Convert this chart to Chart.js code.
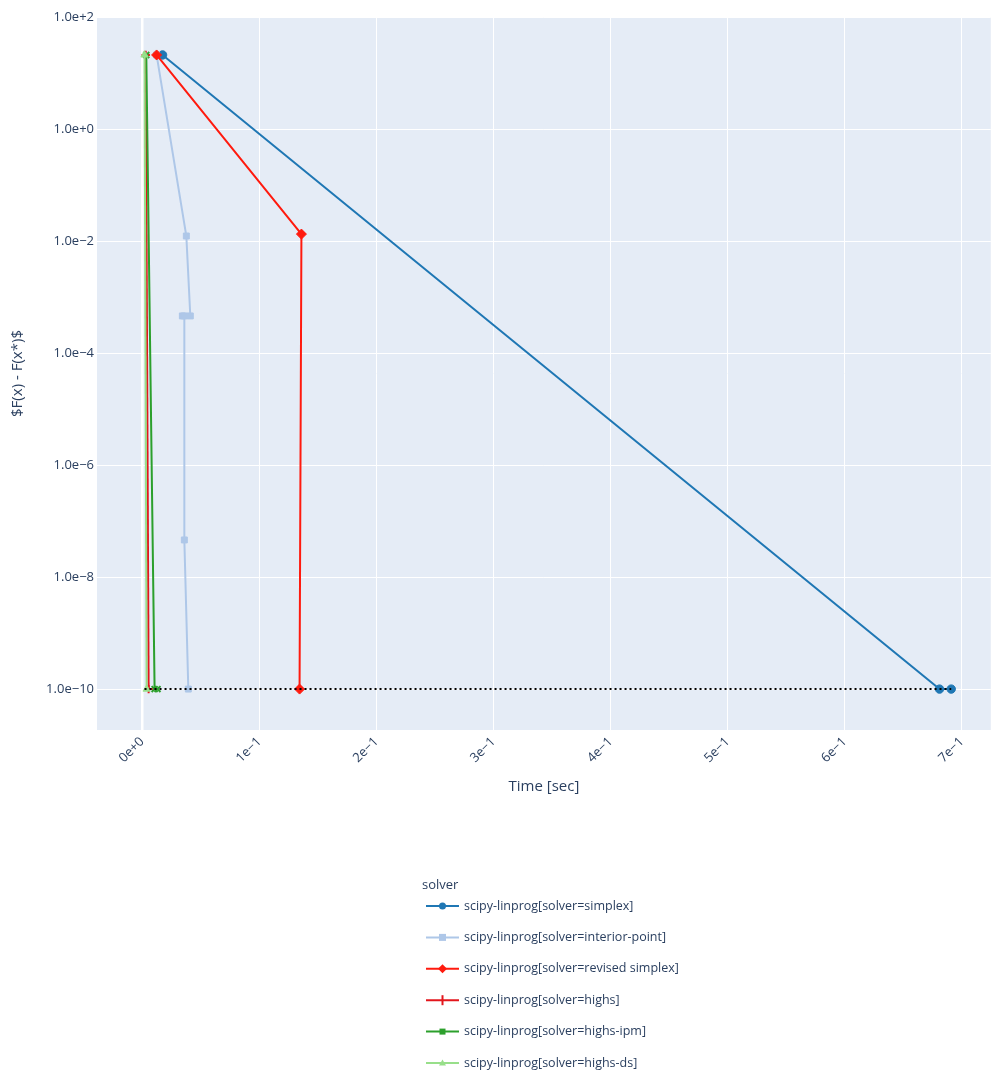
<!DOCTYPE html>
<html>
<head>
<meta charset="utf-8">
<script src="https://cdn.jsdelivr.net/npm/chart.js@4/dist/chart.umd.min.js"></script>
<style>
  body { margin: 0; background: #fff; }
  #wrap { width: 997px; height: 1073px; }
</style>
</head>
<body>
<div id="wrap"><canvas id="chart" width="997" height="1073"></canvas></div>
<script>
// values (time in sec, error F(x) - F(x*))
const solverNames = [
  'scipy-linprog[solver=simplex]',
  'scipy-linprog[solver=interior-point]',
  'scipy-linprog[solver=revised simplex]',
  'scipy-linprog[solver=highs]',
  'scipy-linprog[solver=highs-ipm]',
  'scipy-linprog[solver=highs-ds]'
];

const simplexTime = [0.0174, 0.681, 0.691];
const simplexErr = [21, 1e-10, 1e-10];

const interiorTime = [0.0123, 0.0377, 0.0411, 0.0343, 0.036, 0.036, 0.0394];
const interiorErr = [21, 0.0123, 4.6e-4, 4.6e-4, 4.6e-4, 4.6e-8, 1e-10];

const revisedTime = [0.0123, 0.136, 0.1344];
const revisedErr = [21, 0.0133, 1e-10];

const highsTime = [0.003, 0.0055];
const highsErr = [21, 1e-10];

const highsIpmTime = [0.0035, 0.0106, 0.0131];
const highsIpmErr = [21, 1e-10, 1e-10];

const highsDsTime = [0.002, 0.0038];
const highsDsErr = [21, 1e-10];

const optimumTime = [0.002, 0.691];
const optimumErr = [1e-10, 1e-10];

const xTicks = [0, 0.1, 0.2, 0.3, 0.4, 0.5, 0.6, 0.7];
const xTickLabels = ['0e+0', '1e\u22121', '2e\u22121', '3e\u22121', '4e\u22121', '5e\u22121', '6e\u22121', '7e\u22121'];
const yTicks = [1e-10, 1e-8, 1e-6, 1e-4, 1e-2, 1, 1e2];
const yTickLabels = ['1.0e\u221210', '1.0e\u22128', '1.0e\u22126', '1.0e\u22124', '1.0e\u22122', '1.0e+0', '1.0e+2'];

const colors = ['#1f77b4', '#aec7e8', '#ff1a0e', '#e3161c', '#2ca02c', '#98df8a'];
const markers = ['circle', 'rect', 'rectRot', 'cross', 'crossRot', 'triangle'];

function pts(xs, ys) {
  return xs.map((x, i) => ({ x: x, y: ys[i] }));
}

const series = [
  pts(simplexTime, simplexErr),
  pts(interiorTime, interiorErr),
  pts(revisedTime, revisedErr),
  pts(highsTime, highsErr),
  pts(highsIpmTime, highsIpmErr),
  pts(highsDsTime, highsDsErr)
];

const datasets = series.map((data, i) => ({
  label: solverNames[i],
  data: data,
  borderColor: colors[i],
  backgroundColor: colors[i],
  borderWidth: 2,
  pointStyle: markers[i],
  pointRadius: markers[i] === 'rectRot' ? 5 : 4.2,
  pointBorderWidth: markers[i] === 'cross' || markers[i] === 'crossRot' ? 2 : 1,
  pointHoverRadius: 4,
  tension: 0,
  order: 6 - i
}));

datasets.push({
  label: 'optimum',
  data: pts(optimumTime, optimumErr),
  borderColor: '#000000',
  borderWidth: 2,
  borderDash: [2, 3],
  pointRadius: 0,
  order: 0
});

const TEXT = '#2a3f5f';
Chart.defaults.font.family = '"Open Sans", "DejaVu Sans", sans-serif';
Chart.defaults.font.size = 13;
Chart.defaults.color = TEXT;

// plot background like plotly
const plotBg = {
  id: 'plotBg',
  beforeDraw(chart) {
    const { ctx, chartArea: a } = chart;
    ctx.save();
    ctx.fillStyle = '#e5ecf6';
    ctx.fillRect(a.left, a.top, a.right - a.left, a.bottom - a.top);
    ctx.restore();
  }
};

function drawMarker(ctx, style, x, y, color) {
  ctx.save();
  ctx.fillStyle = color;
  ctx.strokeStyle = color;
  ctx.lineWidth = 2;
  ctx.beginPath();
  if (style === 'circle') {
    ctx.arc(x, y, 3.5, 0, Math.PI * 2);
    ctx.fill();
  } else if (style === 'rect') {
    ctx.fillRect(x - 3.5, y - 3.5, 7, 7);
  } else if (style === 'rectRot') {
    ctx.moveTo(x, y - 4.5); ctx.lineTo(x + 4.5, y); ctx.lineTo(x, y + 4.5); ctx.lineTo(x - 4.5, y);
    ctx.closePath(); ctx.fill();
  } else if (style === 'cross') {
    ctx.moveTo(x, y - 5); ctx.lineTo(x, y + 5);
    ctx.stroke();
  } else if (style === 'crossRot') {
    ctx.fillRect(x - 3, y - 3, 6, 6);
  } else if (style === 'triangle') {
    ctx.moveTo(x, y - 3.5); ctx.lineTo(x + 3.5, y + 2.5); ctx.lineTo(x - 3.5, y + 2.5);
    ctx.closePath(); ctx.fill();
  }
  ctx.restore();
}

// vertical legend under the plot
const sideLegend = {
  id: 'sideLegend',
  afterDraw(chart) {
    const ctx = chart.ctx;
    ctx.save();
    ctx.font = '13px "Open Sans", "DejaVu Sans", sans-serif';
    ctx.fillStyle = TEXT;
    ctx.textBaseline = 'middle';
    ctx.fillText('solver', 422, 885);
    ctx.font = '12.5px "Open Sans", "DejaVu Sans", sans-serif';
    solverNames.forEach((name, i) => {
      const y = 906 + i * 31.4;
      ctx.strokeStyle = colors[i];
      ctx.lineWidth = 2;
      ctx.beginPath();
      ctx.moveTo(426, y);
      ctx.lineTo(459, y);
      ctx.stroke();
      drawMarker(ctx, markers[i], 442.5, y, colors[i]);
      ctx.fillStyle = TEXT;
      ctx.fillText(name, 464, y);
    });
    ctx.restore();
  }
};

new Chart(document.getElementById('chart'), {
  type: 'line',
  data: { datasets: datasets },
  options: {
    responsive: false,
    animation: false,
    layout: { padding: { top: 17, right: 0, left: 0, bottom: 273 } },
    plugins: {
      legend: { display: false },
      tooltip: { enabled: false }
    },
    scales: {
      x: {
        type: 'linear',
        min: -0.0386,
        max: 0.7248,
        afterFit(scale) { scale.height = 70; },
        afterBuildTicks(scale) {
          scale.ticks = xTicks.map(v => ({ value: v }));
        },
        ticks: {
          minRotation: 45,
          maxRotation: 45,
          padding: 4,
          color: TEXT,
          callback: (v) => {
            const k = xTicks.findIndex(t => Math.abs(t - v) < 1e-9);
            return k >= 0 ? xTickLabels[k] : '';
          }
        },
        grid: {
          color: '#ffffff',
          lineWidth: (c) => (c.tick && c.tick.value === 0 ? 2.5 : 1),
          drawTicks: false
        },
        border: { display: false },
        title: {
          display: true,
          text: 'Time [sec]',
          color: TEXT,
          font: { size: 15 },
          padding: { top: 0, bottom: 4 }
        }
      },
      y: {
        type: 'logarithmic',
        min: 1.86e-11,
        max: 100,
        afterFit(scale) { scale.width = 97; },
        afterBuildTicks(scale) {
          scale.ticks = yTicks.map(v => ({ value: v }));
        },
        ticks: {
          padding: 3,
          color: TEXT,
          callback: (v) => {
            const k = yTicks.findIndex(t => Math.abs(Math.log10(t) - Math.log10(v)) < 1e-6);
            return k >= 0 ? yTickLabels[k] : '';
          }
        },
        grid: {
          color: '#ffffff',
          lineWidth: 1,
          drawTicks: false
        },
        border: { display: false },
        title: {
          display: true,
          text: '$F(x) - F(x*)$',
          color: TEXT,
          font: { size: 15 },
          padding: { top: 9, bottom: 0 }
        }
      }
    }
  },
  plugins: [plotBg, sideLegend]
});
</script>
</body>
</html>
